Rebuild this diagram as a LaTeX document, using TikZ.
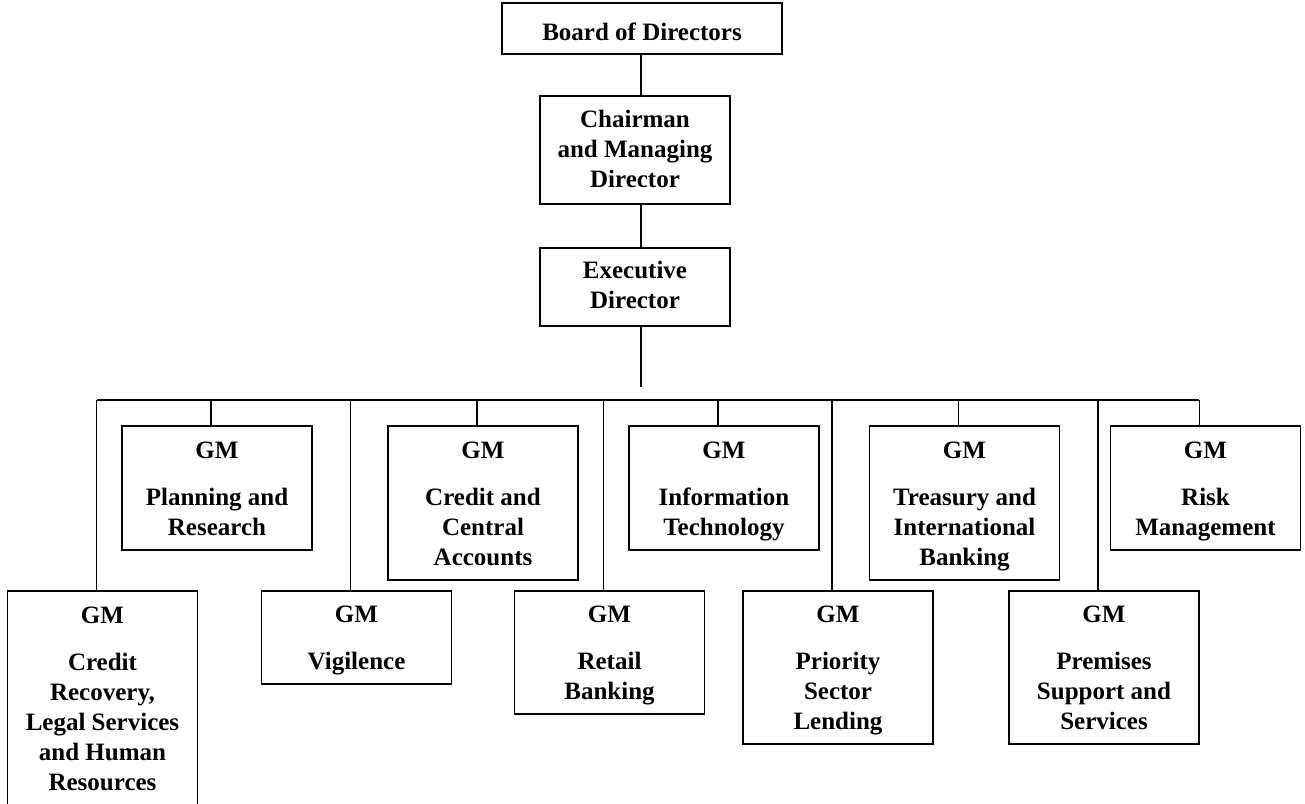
\documentclass[tikz,border=0pt]{standalone}
\usepackage{fontspec}
\setmainfont{Liberation Serif}
\newcommand\gmhead{\rule{0pt}{25pt}GM\\[17pt]}
\begin{document}
\begin{tikzpicture}[x=1pt, y=-1pt,
    unit/.style={draw, line width=1.6pt, align=center, anchor=north, inner sep=1pt,
      font=\bfseries\fontsize{25}{30}\selectfont, minimum width=190pt,
      execute at end node=\rule[-7pt]{0pt}{7pt}},
    link/.style={line width=1.3pt}]
	\useasboundingbox (0,0) rectangle (1305,803);

	% Top management
	\node[unit, minimum width=280pt, minimum height=51pt] (board) at (642,2) {\rule{0pt}{31pt}Board of Directors};
	\node[unit, minimum height=108pt] (chair) at (635,95) {\rule{0pt}{22pt}Chairman\\and Managing\\Director};
	\node[unit, minimum height=78pt] (exec) at (635,247) {\rule{0pt}{21pt}Executive\\Director};

	% General managers, upper row
	\node[unit, minimum height=124pt] (plan) at (217,425) {\gmhead Planning and\\Research};
	\node[unit, minimum height=154pt] (cca) at (483,425) {\gmhead Credit and\\Central\\Accounts};
	\node[unit, minimum height=124pt] (it) at (724,425) {\gmhead Information\\Technology};
	\node[unit, minimum height=154pt] (tib) at (964.5,425) {\gmhead Treasury and\\International\\Banking};
	\node[unit, minimum height=124pt] (risk) at (1205.5,425) {\gmhead Risk\\Management};

	% General managers, lower row
	\node[unit, minimum height=214pt] (crl) at (102.5,590) {\gmhead Credit\\Recovery,\\Legal Services\\and Human\\Resources};
	\node[unit, minimum height=93pt] (vig) at (356.5,590) {\gmhead Vigilence};
	\node[unit, minimum height=123pt] (retail) at (609.5,590) {\gmhead Retail\\Banking};
	\node[unit, minimum height=153pt] (psl) at (838,590) {\gmhead Priority\\Sector\\Lending};
	\node[unit, minimum height=153pt] (pss) at (1104,590) {\gmhead Premises\\Support and\\Services};

	% Connectors
	\coordinate (drop) at (641,387);
	\coordinate (busL) at (97,400);
	\coordinate (busR) at (1199,400);
	\draw[link] (board.south -| drop) -- (chair.north -| drop);
	\draw[link] (chair.south -| drop) -- (exec.north -| drop);
	\draw[link] (exec.south -| drop) -- (drop);
	\draw[link] (busL) -- (busR);
	\foreach \g in {plan,cca,it,tib,risk,crl,vig,retail,psl,pss}{
		\path ([xshift=-6pt]\g.north) coordinate (top);
		\draw[link] (top) -- (top |- busL);
	}
\end{tikzpicture}
\end{document}
